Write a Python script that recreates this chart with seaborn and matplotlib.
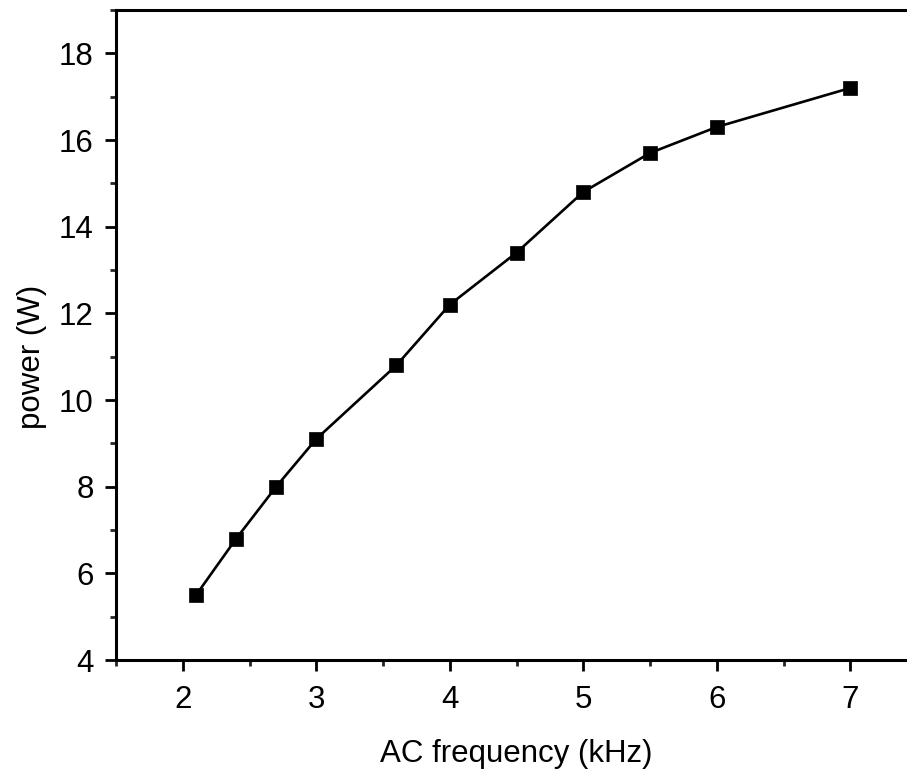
import pandas as pd
import matplotlib
matplotlib.use("Agg")
import matplotlib.pyplot as plt
import seaborn as sns
from matplotlib.ticker import MultipleLocator

# Measured power versus AC drive frequency
freq_khz = [2.1, 2.4, 2.7, 3.0, 3.6, 4.0, 4.5, 5.0, 5.5, 6.0, 7.0]
power_w = [5.5, 6.8, 8.0, 9.1, 10.8, 12.2, 13.4, 14.8, 15.7, 16.3, 17.2]
x_ticks = [2, 3, 4, 5, 6, 7]
y_ticks = [4, 6, 8, 10, 12, 14, 16, 18]

df = pd.DataFrame({"freq": freq_khz, "power": power_w})

sns.set_theme(style="ticks")
plt.rcParams["font.family"] = ["Liberation Sans", "DejaVu Sans"]

fig = plt.figure(figsize=(9.07, 7.73), dpi=100)
ax = fig.add_axes([116 / 907, 1 - 660 / 773, 801 / 907, 650 / 773])

sns.lineplot(data=df, x="freq", y="power", ax=ax, color="black",
             linewidth=1.9)
sns.scatterplot(data=df, x="freq", y="power", ax=ax, marker="s", s=110,
                color="black", edgecolor="black", linewidth=0.5, zorder=3)

ax.set_xlim(1.5, 7.5)
ax.set_ylim(4, 19)
ax.set_xticks(x_ticks)
ax.set_yticks(y_ticks)
ax.xaxis.set_minor_locator(MultipleLocator(0.5))
ax.yaxis.set_minor_locator(MultipleLocator(1))
ax.tick_params(axis="both", which="major", direction="out", length=8, width=2,
               labelsize=22.5, colors="black")
ax.tick_params(axis="x", which="major", pad=10)
ax.tick_params(axis="y", which="major", pad=8)
ax.tick_params(axis="both", which="minor", direction="out", length=4, width=2)

for side in ["left", "bottom", "top"]:
    ax.spines[side].set_visible(True)
    ax.spines[side].set_linewidth(2.2)
    ax.spines[side].set_color("black")
ax.spines["right"].set_visible(False)

ax.set_xlabel("AC frequency (kHz)", fontsize=22.5, labelpad=17, color="black")
ax.set_ylabel("power (W)", fontsize=22.5, color="black")
ax.yaxis.set_label_coords((47 - 116) / 801, (660 - 357) / 650)

fig.savefig("out.png", dpi=100)
